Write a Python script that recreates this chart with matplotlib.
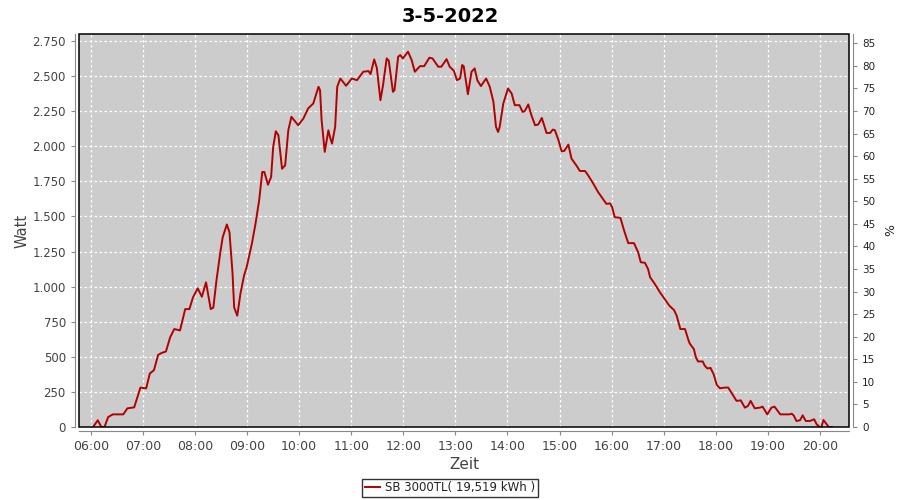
import matplotlib
matplotlib.use("Agg")
from matplotlib import pyplot as plt
from matplotlib.patches import Rectangle
from matplotlib.ticker import FuncFormatter
import numpy as np

# Tagesverlauf SB 3000TL, 3-5-2022
TITLE = "3-5-2022"
SERIES_LABEL = "SB 3000TL( 19,519 kWh )"

hours = [6.04, 6.13, 6.20, 6.26, 6.33, 6.42, 6.62, 6.70, 6.83, 6.95,
         7.06, 7.13, 7.21, 7.29, 7.36, 7.44, 7.52, 7.60, 7.71, 7.81,
         7.89, 7.96, 8.05, 8.13, 8.21, 8.30, 8.35, 8.41, 8.48, 8.53,
         8.61, 8.66, 8.72, 8.75, 8.81, 8.87, 8.94, 8.99, 9.09, 9.16,
         9.23, 9.29, 9.33, 9.40, 9.46, 9.50, 9.55, 9.60, 9.67, 9.73,
         9.79, 9.85, 9.98, 10.08, 10.17, 10.27, 10.37, 10.40, 10.43, 10.49,
         10.56, 10.59, 10.63, 10.69, 10.73, 10.79, 10.90, 11.01, 11.11, 11.23,
         11.33, 11.37, 11.44, 11.49, 11.56, 11.61, 11.68, 11.72, 11.80, 11.83,
         11.90, 11.94, 11.99, 12.09, 12.16, 12.22, 12.32, 12.40, 12.50, 12.56,
         12.67, 12.73, 12.83, 12.89, 12.97, 13.03, 13.09, 13.13, 13.16, 13.24,
         13.31, 13.37, 13.42, 13.49, 13.59, 13.66, 13.73, 13.78, 13.82, 13.85,
         13.92, 14.01, 14.08, 14.14, 14.23, 14.29, 14.33, 14.40, 14.46, 14.53,
         14.59, 14.66, 14.75, 14.82, 14.87, 14.91, 14.98, 15.04, 15.09, 15.17,
         15.23, 15.33, 15.39, 15.49, 15.55, 15.65, 15.74, 15.83, 15.90, 15.97,
         16.01, 16.06, 16.17, 16.24, 16.32, 16.43, 16.51, 16.56, 16.64, 16.70,
         16.74, 16.83, 16.93, 17.02, 17.11, 17.20, 17.25, 17.32, 17.41, 17.47,
         17.50, 17.58, 17.62, 17.66, 17.75, 17.79, 17.84, 17.90, 17.96, 18.02,
         18.08, 18.18, 18.24, 18.34, 18.40, 18.48, 18.56, 18.62, 18.67, 18.75,
         18.85, 18.90, 18.99, 19.07, 19.13, 19.24, 19.42, 19.46, 19.50, 19.55,
         19.62, 19.67, 19.73, 19.81, 19.89, 19.94, 20.00, 20.03, 20.07, 20.13,
         20.17, 20.23]

watt = [0, 48, 0, 0, 71, 90, 90, 133, 140, 281,
        275, 381, 405, 514, 528, 538, 638, 698, 688, 840,
        840, 924, 988, 928, 1031, 840, 850, 1043, 1233, 1352,
        1443, 1388, 1090, 852, 793, 948, 1079, 1138, 1305, 1448,
        1614, 1817, 1817, 1726, 1781, 1995, 2107, 2079, 1840, 1864,
        2114, 2210, 2150, 2198, 2269, 2305, 2424, 2400, 2186, 1960,
        2114, 2067, 2019, 2138, 2424, 2483, 2431, 2483, 2471, 2531,
        2536, 2514, 2619, 2560, 2328, 2436, 2626, 2610, 2388, 2400,
        2638, 2650, 2626, 2674, 2614, 2531, 2571, 2571, 2631, 2626,
        2567, 2567, 2621, 2567, 2538, 2471, 2483, 2579, 2570, 2371,
        2531, 2555, 2471, 2429, 2483, 2424, 2317, 2138, 2102, 2138,
        2305, 2412, 2376, 2293, 2293, 2245, 2250, 2298, 2221, 2150,
        2155, 2202, 2095, 2095, 2119, 2115, 2043, 1964, 1967, 2012,
        1912, 1860, 1824, 1824, 1793, 1733, 1674, 1626, 1590, 1593,
        1567, 1495, 1490, 1400, 1310, 1310, 1245, 1174, 1170, 1126,
        1067, 1019, 959, 912, 864, 833, 793, 698, 698, 626,
        595, 555, 495, 467, 467, 436, 417, 421, 376, 300,
        276, 281, 281, 221, 186, 190, 138, 150, 186, 133,
        138, 145, 90, 138, 145, 90, 90, 95, 81, 43,
        48, 83, 43, 43, 55, 19, 0, 0, 50, 20,
        0, 0]

hour_ticks = list(range(6, 21))
watt_ticks = list(range(0, 2751, 250))
pct_ticks = list(range(0, 86, 5))

LINE_COL = "#b30000"
GRAY = "#888888"
TXT = "#444444"

fig = plt.figure(figsize=(9, 5), dpi=100)
ax = fig.add_axes([79 / 900, 1 - 427 / 500, 770 / 900, 393 / 500])
ax.set_facecolor("#cccccc")

ax.plot(hours, watt, color=LINE_COL, lw=1.4, zorder=3, label=SERIES_LABEL)

ax.set_xlim(5.77, 20.56)
ax.set_ylim(0, 2800)
ax.set_xticks(hour_ticks)
ax.xaxis.set_major_formatter(FuncFormatter(lambda v, p: "%02d:00" % int(round(v))))
ax.set_yticks(watt_ticks)
ax.yaxis.set_major_formatter(FuncFormatter(lambda v, p: "{:,.0f}".format(v).replace(",", ".")))
ax.grid(True, color="white", ls=(0, (2, 2)), lw=0.9)
ax.set_axisbelow(True)

for s in ["top", "right"]:
    ax.spines[s].set_visible(False)
for s in ["left", "bottom"]:
    ax.spines[s].set_position(("outward", 3))
    ax.spines[s].set_color(GRAY)
ax.tick_params(axis="both", colors=GRAY, labelcolor=TXT, labelsize=8.5, length=3)
ax.tick_params(axis="x", labelsize=9)

# black frame around the plot area
ax.add_patch(Rectangle((0, 0), 1, 1, transform=ax.transAxes, fill=False,
                       ec="black", lw=1.1, zorder=5, clip_on=False))

ax2 = ax.twinx()
ax2.set_ylim(0, 2800 / 32.16)
ax2.set_yticks(pct_ticks)
for s in ["top", "left", "bottom"]:
    ax2.spines[s].set_visible(False)
ax2.spines["right"].set_position(("outward", 3))
ax2.spines["right"].set_color(GRAY)
ax2.tick_params(axis="y", colors=GRAY, labelcolor="#222222", labelsize=7.5, length=3)
ax2.set_ylabel("%", fontsize=9, color="#222222", labelpad=6)

ax.set_ylabel("Watt", fontsize=10.5, color=TXT, labelpad=2)
ax.set_xlabel("Zeit", fontsize=11, color=TXT, labelpad=3)
fig.suptitle(TITLE, fontsize=14, fontweight="bold", y=0.985)

leg = fig.legend(loc="center", bbox_to_anchor=(450 / 900, 1 - 488 / 500), fontsize=8.5,
                 frameon=True, fancybox=False, edgecolor="black", handlelength=1.3,
                 handletextpad=0.4, borderpad=0.25, borderaxespad=0)
for t in leg.get_texts():
    t.set_color("#222222")

fig.savefig("out.png", dpi=100)
